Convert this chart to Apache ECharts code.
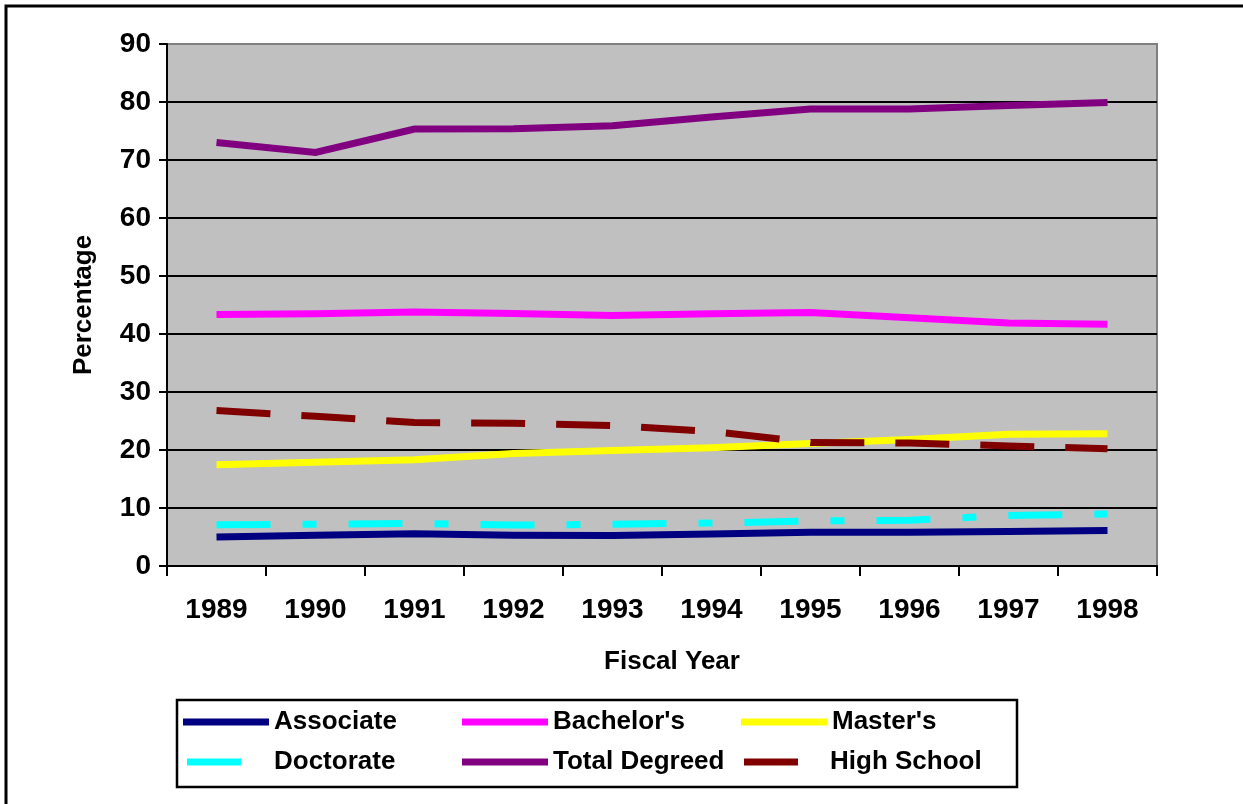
<!DOCTYPE html>
<html>
<head>
<meta charset="utf-8">
<title>Percentage by Degree Level, FY 1989-1998</title>
<script src="https://cdn.jsdelivr.net/npm/echarts@6/dist/echarts.min.js"></script>
<style>
  html, body { margin: 0; padding: 0; background: #ffffff; }
  #chart { width: 1243px; height: 804px; }
</style>
</head>
<body>
<div id="chart"></div>
<script>
// Fiscal years on the category axis
const years = ['1989', '1990', '1991', '1992', '1993', '1994', '1995', '1996', '1997', '1998'];

// Percentage values per group
const associate     = [5.0, 5.3, 5.55, 5.3, 5.25, 5.5, 5.8, 5.8, 5.95, 6.1];
const bachelors     = [43.35, 43.5, 43.8, 43.55, 43.2, 43.5, 43.7, 42.8, 41.9, 41.7];
const masters       = [17.45, 17.9, 18.3, 19.4, 19.9, 20.4, 21.1, 21.8, 22.7, 22.8];
const doctorate     = [7.1, 7.2, 7.35, 7.05, 7.2, 7.4, 7.75, 7.9, 8.7, 8.95];
const totalDegreed  = [73.0, 71.3, 75.35, 75.4, 75.9, 77.4, 78.8, 78.8, 79.4, 79.9];
const highSchool    = [26.8, 25.8, 24.75, 24.6, 24.2, 23.2, 21.3, 21.2, 20.7, 20.2];

// Value axis range
const yMin = 0, yMax = 90, yStep = 10;

const FONT = '"Liberation Sans", Arial, sans-serif';

function lineSeries(name, data, color, dash) {
  return {
    name: name,
    type: 'line',
    data: data,
    symbol: 'none',
    smooth: false,
    lineStyle: { color: color, width: 7, type: dash || 'solid', cap: 'butt', join: 'miter' },
    itemStyle: { color: color },
    emphasis: { disabled: true },
    animation: false
  };
}

// One legend block per entry so the three columns line up
function legendBlock(name, left, top, iconWidth, textPad) {
  return {
    data: [name],
    left: left,
    top: top,
    orient: 'horizontal',
    icon: 'rect',
    itemWidth: iconWidth,
    itemHeight: 7,
    padding: 0,
    selectedMode: false,
    textStyle: {
      fontFamily: FONT, fontWeight: 'bold', fontSize: 26, color: '#000',
      padding: [0, 0, 0, textPad]
    }
  };
}

const chart = echarts.init(document.getElementById('chart'), null, { renderer: 'canvas' });

chart.setOption({
  backgroundColor: '#ffffff',
  animation: false,
  grid: {
    left: 167, right: 86, top: 44, bottom: 238,
    show: true, backgroundColor: '#C0C0C0',
    borderColor: '#808080', borderWidth: 2
  },
  xAxis: {
    type: 'category',
    data: years,
    boundaryGap: true,
    name: 'Fiscal Year',
    nameLocation: 'middle',
    nameGap: 83,
    nameTextStyle: { fontFamily: FONT, fontWeight: 'bold', fontSize: 26, color: '#000', padding: [0, 0, 0, 20] },
    axisLine: { show: true, lineStyle: { color: '#000', width: 2 } },
    axisTick: { show: true, length: 10, lineStyle: { color: '#000', width: 2 } },
    axisLabel: { fontFamily: FONT, fontWeight: 'bold', fontSize: 28, color: '#000', margin: 30 },
    splitLine: { show: false }
  },
  yAxis: {
    type: 'value',
    min: yMin, max: yMax, interval: yStep,
    name: 'Percentage',
    nameLocation: 'middle',
    nameGap: 70,
    nameRotate: 90,
    nameTextStyle: { fontFamily: FONT, fontWeight: 'bold', fontSize: 26, color: '#000' },
    axisLine: { show: true, lineStyle: { color: '#000', width: 2 } },
    axisTick: { show: true, length: 8, lineStyle: { color: '#000', width: 2 } },
    axisLabel: { fontFamily: FONT, fontWeight: 'bold', fontSize: 28, color: '#000', margin: 16 },
    splitLine: {
      show: true,
      lineStyle: {
        color: ['#000', '#000', '#000', '#000', '#000', '#000', '#000', '#000', '#000', '#808080'],
        width: 2
      }
    }
  },
  legend: [
    legendBlock('Associate', 183, 709, 86, 0),
    legendBlock("Bachelor's", 462, 709, 86, 0),
    legendBlock("Master's", 741, 709, 86, 0),
    legendBlock('Doctorate', 187, 749, 54, 28),
    legendBlock('Total Degreed', 462, 749, 86, 0),
    legendBlock('High School', 744, 749, 54, 27)
  ],
  graphic: [
    // outer chart-area frame
    { type: 'rect', shape: { x: 6, y: 6, width: 1400, height: 1000 },
      style: { fill: null, stroke: '#000', lineWidth: 3 }, silent: true, z: 0 },
    // legend frame
    { type: 'rect', shape: { x: 177, y: 700, width: 840, height: 87 },
      style: { fill: null, stroke: '#000', lineWidth: 2.5 }, silent: true, z: 0 }
  ],
  series: [
    lineSeries('Associate', associate, '#000080'),
    lineSeries("Bachelor's", bachelors, '#FF00FF'),
    lineSeries("Master's", masters, '#FFFF00'),
    lineSeries('Doctorate', doctorate, '#00FFFF', [54, 32, 14, 32]),
    lineSeries('Total Degreed', totalDegreed, '#800080'),
    lineSeries('High School', highSchool, '#800000', [54, 31])
  ]
});
</script>
</body>
</html>
